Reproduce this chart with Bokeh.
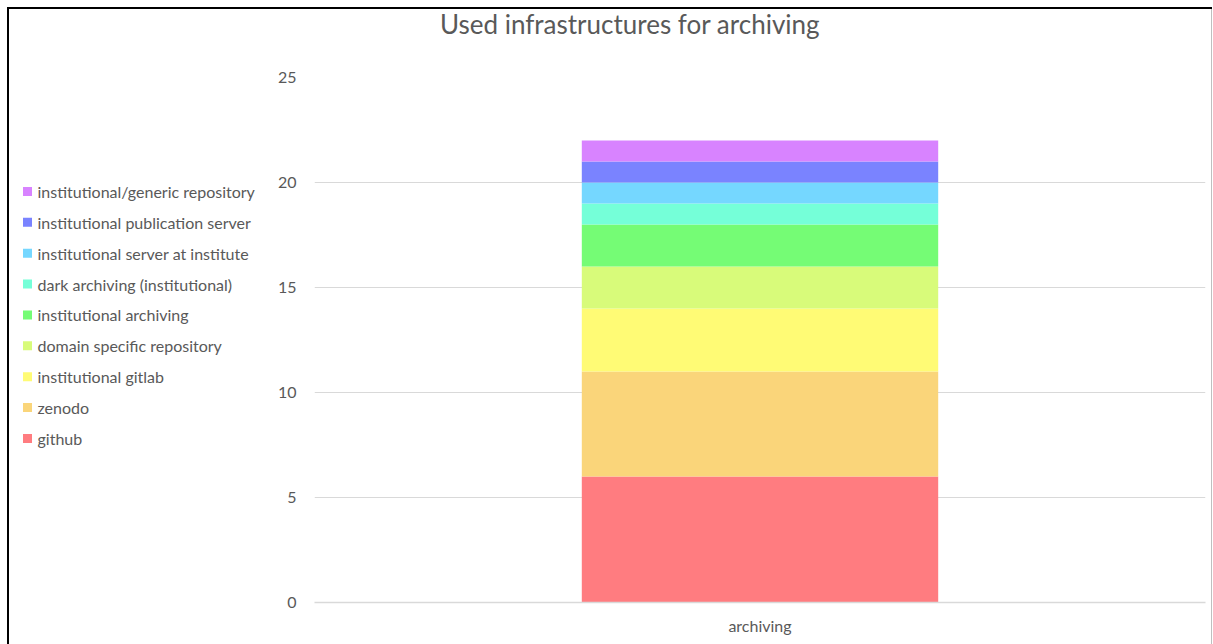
from bokeh.plotting import figure
from bokeh.layouts import row, column
from bokeh.models import Range1d, SingleIntervalTicker, ColumnDataSource, Div
from bokeh.core.properties import value
from bokeh.embed import file_html
from bokeh.resources import INLINE

# --- data -------------------------------------------------------------
categories = ["archiving"]
series = [
    "github",
    "zenodo",
    "institutional gitlab",
    "domain specific repository",
    "institutional archiving",
    "dark archiving (institutional)",
    "institutional server at institute",
    "institutional publication server",
    "institutional/generic repository",
]
counts = [6, 5, 3, 2, 2, 1, 1, 1, 1]
colors = ["#FF7C80", "#FAD57A", "#FFFB75", "#D8FB7A", "#75FC75",
          "#75FFD8", "#75D7FF", "#7A83FF", "#D883FF"]
title_text = "Used infrastructures for archiving"

FONT = "Lato"
GREY = "#595959"
TITLE_H = 44
PLOT_H = 644 - TITLE_H
LEG_W = 274

# --- title strip ------------------------------------------------------
title = Div(
    text=(f'<div style="padding-left:440px;padding-top:9px;'
          f'white-space:nowrap;font-family:{FONT};font-size:26px;'
          f'line-height:31px;color:{GREY}">{title_text}</div>'),
    width=1213, height=TITLE_H, margin=0)

# --- legend panel (left): top entry is the top stack segment ----------
leg = figure(width=LEG_W, height=PLOT_H, x_range=Range1d(0, LEG_W),
             y_range=Range1d(13.312, -3.692),
             output_backend="svg", toolbar_location=None,
             x_axis_type=None, y_axis_type=None,
             min_border=0)
leg.grid.visible = False
leg.outline_line_color = None
leg.background_fill_alpha = 0
leg.border_fill_alpha = 0

leg_src = ColumnDataSource(dict(
    label=list(reversed(series)),
    color=list(reversed(colors)),
    row=list(range(len(series))),
    sx=[27] * len(series),
    tx=[37] * len(series),
))
leg.scatter(x="sx", y="row", marker="square", size=9, color="color",
            line_color=None, source=leg_src)
leg.text(x="tx", y="row", text="label", source=leg_src,
         text_font=value(FONT), text_font_size="16px", text_color=GREY,
         text_align="left", text_baseline="middle")

# --- chart ------------------------------------------------------------
p = figure(width=1213 - LEG_W, height=PLOT_H, x_range=categories,
           y_range=Range1d(0, 25),
           output_backend="svg", toolbar_location=None,
           min_border_left=38, min_border_right=8,
           min_border_top=77 - TITLE_H, min_border_bottom=42)
p.outline_line_color = None
p.background_fill_color = "white"
p.border_fill_alpha = 0

src = ColumnDataSource(dict(cat=categories,
                            **{s: [v] for s, v in zip(series, counts)}))
p.vbar_stack(series, x="cat", width=0.4, source=src,
             color=colors, line_color=None)

p.yaxis.ticker = SingleIntervalTicker(interval=5)
p.yaxis.axis_line_color = None
p.yaxis.major_tick_line_color = None
p.yaxis.minor_tick_line_color = None
p.yaxis.major_tick_out = 0
p.yaxis.major_label_standoff = 14
p.yaxis.major_label_text_font = FONT
p.yaxis.major_label_text_font_size = "16px"
p.yaxis.major_label_text_color = GREY

p.xaxis.axis_line_color = "#D9D9D9"
p.xaxis.axis_line_width = 1.5
p.xaxis.major_tick_line_color = None
p.xaxis.major_tick_out = 0
p.xaxis.major_label_standoff = 13
p.xaxis.major_label_text_font = FONT
p.xaxis.major_label_text_font_size = "16px"
p.xaxis.major_label_text_color = GREY

p.xgrid.grid_line_color = None
p.ygrid.grid_line_color = "#D9D9D9"
p.ygrid.grid_line_width = 1.2

# --- page: title above, legend and chart side by side, ruled frame ------
layout = column(title, row(leg, p, spacing=0), spacing=0)
layout.styles = {
    "background": (
        "linear-gradient(#000,#000) 7px 7px / 2px 100% no-repeat,"
        "linear-gradient(#000,#000) 7px 7px / 1205px 2px no-repeat,"
        "linear-gradient(#BFBFBF,#BFBFBF) 1211px 7px / 1px 100% no-repeat,"
        "#fff"
    )
}

open("out.html", "w").write(file_html(layout, INLINE))
